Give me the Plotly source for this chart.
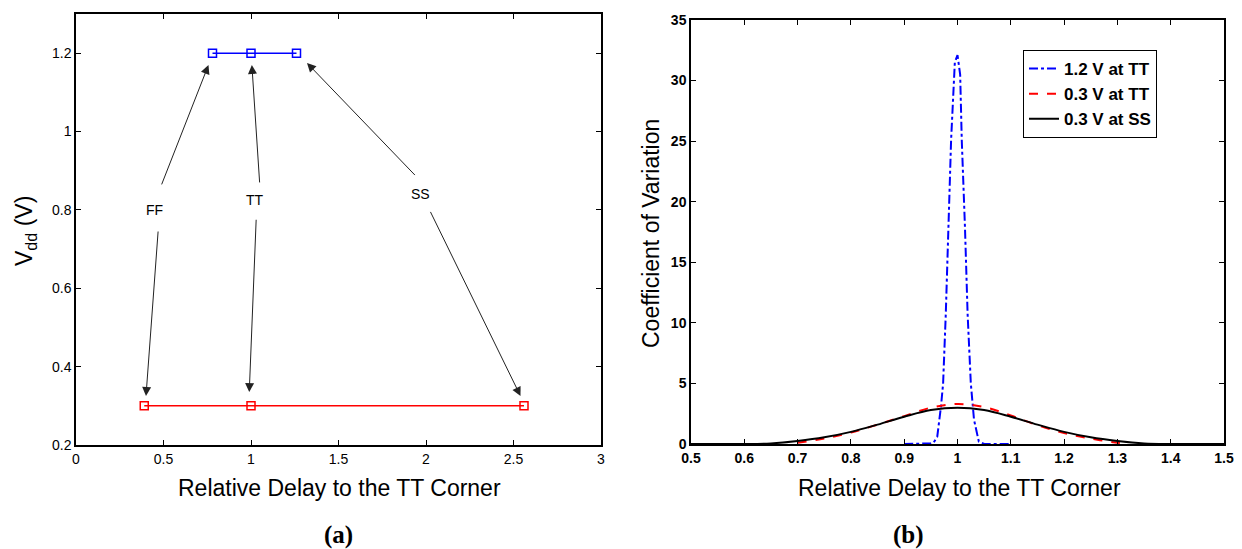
import plotly.graph_objects as go

# ---------------- Data: panel (a) ----------------
delay_12v = [0.78, 1.0, 1.26]
vdd_12v = [1.2, 1.2, 1.2]
delay_03v = [0.39, 1.0, 2.56]
vdd_03v = [0.3, 0.3, 0.3]

corner_labels = ["FF", "TT", "SS"]
label_x = [0.45, 1.02, 1.97]
label_y = [0.80, 0.825, 0.84]
# arrow tails (near labels) and heads (at markers)
up_tail_x = [0.485, 1.05, 1.945]
up_tail_y = [0.86, 0.865, 0.885]
up_head_x = [0.757, 1.005, 1.32]
up_head_y = [1.17, 1.17, 1.175]
down_tail_x = [0.47, 1.03, 2.02]
down_tail_y = [0.75, 0.78, 0.80]
down_head_x = [0.40, 0.99, 2.54]
down_head_y = [0.325, 0.335, 0.325]

# ---------------- Data: panel (b) ----------------
blue_x = [0.90, 0.93, 0.95, 0.955, 0.962, 0.969, 0.973, 0.978, 0.983, 0.988,
          0.995, 1.0, 1.005, 1.008, 1.014, 1.019, 1.025, 1.031, 1.04, 1.05,
          1.07, 1.10]
blue_y = [0.0, 0.0, 0.05, 0.1, 0.6, 3.1, 5.0, 10.7, 17.9, 25.1,
          31.5, 32.1, 30.5, 25.1, 17.9, 10.7, 5.0, 2.0, 0.2, 0.0,
          0.0, 0.0]

red_x = [0.70, 0.75, 0.80, 0.85, 0.90, 0.95, 1.00, 1.05, 1.10, 1.15,
         1.20, 1.25, 1.30, 1.32]
red_y = [0.1, 0.45, 0.95, 1.6, 2.3, 3.0, 3.3, 3.05, 2.35, 1.55,
         0.9, 0.45, 0.1, 0.0]

black_x = [0.50, 0.60, 0.65, 0.70, 0.75, 0.80, 0.85, 0.90, 0.95, 1.00,
           1.05, 1.10, 1.15, 1.20, 1.25, 1.30, 1.35, 1.40, 1.50]
black_y = [0.0, 0.0, 0.05, 0.25, 0.55, 1.0, 1.6, 2.25, 2.8, 3.0,
           2.8, 2.25, 1.6, 1.0, 0.55, 0.25, 0.05, 0.0, 0.0]

series_names = ["1.2 V at TT", "0.3 V at TT", "0.3 V at SS"]

FONT = "Liberation Sans, Arial, sans-serif"
SERIF = "Liberation Serif, Times New Roman, serif"

fig = go.Figure()

# panel (a)
fig.add_trace(go.Scatter(
    x=delay_12v, y=vdd_12v, mode="lines+markers", xaxis="x", yaxis="y",
    line=dict(color="#0000ff", width=1.5),
    marker=dict(symbol="square-open", size=8, color="#0000ff", line=dict(width=1.5)),
    showlegend=False))
fig.add_trace(go.Scatter(
    x=delay_03v, y=vdd_03v, mode="lines+markers", xaxis="x", yaxis="y",
    line=dict(color="#ff0000", width=1.5),
    marker=dict(symbol="square-open", size=8, color="#ff0000", line=dict(width=1.5)),
    showlegend=False))

# panel (b)
fig.add_trace(go.Scatter(
    x=blue_x, y=blue_y, mode="lines", xaxis="x2", yaxis="y2", name=series_names[0],
    line=dict(color="#0000ff", width=2, dash="dashdot")))
fig.add_trace(go.Scatter(
    x=red_x, y=red_y, mode="lines", xaxis="x2", yaxis="y2", name=series_names[1],
    line=dict(color="#ff0000", width=2, dash="dash"), line_shape="spline"))
fig.add_trace(go.Scatter(
    x=black_x, y=black_y, mode="lines", xaxis="x2", yaxis="y2", name=series_names[2],
    line=dict(color="#000000", width=2), line_shape="spline"))

annotations = []
for i, lab in enumerate(corner_labels):
    annotations.append(dict(x=label_x[i], y=label_y[i], xref="x", yref="y",
                            xanchor="center", yanchor="middle",
                            text=lab, showarrow=False,
                            font=dict(family=FONT, size=14, color="#000")))
    for tx, ty, hx, hy in [(up_tail_x[i], up_tail_y[i], up_head_x[i], up_head_y[i]),
                           (down_tail_x[i], down_tail_y[i], down_head_x[i], down_head_y[i])]:
        annotations.append(dict(x=hx, y=hy, xref="x", yref="y",
                                ax=tx, ay=ty, axref="x", ayref="y",
                                text=" ", showarrow=True, arrowhead=2,
                                arrowsize=1.8, arrowwidth=1.0, arrowcolor="#222",
                                font=dict(size=1)))


def paper_text(px, py, text, size, family=FONT, angle=0):
    return dict(x=px / 1242, y=1 - py / 549, xref="paper", yref="paper",
                xanchor="center", yanchor="middle", text=text, showarrow=False,
                textangle=angle, font=dict(family=family, size=size, color="#000"))


# axis titles and captions
annotations += [
    paper_text(339, 488, "Relative Delay to the TT Corner", 23),
    paper_text(959, 488, "Relative Delay to the TT Corner", 23),
    paper_text(25, 231, "V<sub>dd</sub> (V)", 23, angle=-90),
    paper_text(651, 234, "Coefficient of Variation", 23, angle=-90),
    paper_text(338, 535, "<b>(a)</b>", 25, family=SERIF),
    paper_text(908, 535, "<b>(b)</b>", 25, family=SERIF),
]

axis_common = dict(showline=True, linecolor="#000", linewidth=1.5, mirror="ticks",
                   ticks="inside", ticklen=5, tickwidth=1.2, tickcolor="#000",
                   showgrid=False, zeroline=False, automargin=False)

fig.update_layout(
    template="none",
    width=1242, height=549,
    margin=dict(l=0, r=0, t=0, b=0, pad=0),
    paper_bgcolor="white", plot_bgcolor="white",
    font=dict(family=FONT, color="#000"),
    xaxis=dict(domain=[76 / 1242, 601 / 1242], range=[0, 3],
               tickvals=[0, 0.5, 1, 1.5, 2, 2.5, 3],
               tickfont=dict(size=14, family=FONT), anchor="y", **axis_common),
    yaxis=dict(domain=[1 - 445 / 549, 1 - 14 / 549], range=[0.2, 1.3],
               tickvals=[0.2, 0.4, 0.6, 0.8, 1.0, 1.2],
               tickfont=dict(size=14, family=FONT), anchor="x", **axis_common),
    xaxis2=dict(domain=[691 / 1242, 1224 / 1242], range=[0.5, 1.5],
                tickvals=[0.5, 0.6, 0.7, 0.8, 0.9, 1.0, 1.1, 1.2, 1.3, 1.4, 1.5],
                tickfont=dict(size=14, family=FONT, weight="bold"), anchor="y2", **axis_common),
    yaxis2=dict(domain=[1 - 444 / 549, 1 - 20 / 549], range=[0, 35],
                tickvals=[0, 5, 10, 15, 20, 25, 30, 35],
                tickfont=dict(size=14, family=FONT, weight="bold"), anchor="x2", **axis_common),
    legend=dict(x=1023 / 1242, y=1 - 50 / 549, xanchor="left", yanchor="top",
                bgcolor="white", bordercolor="#000", borderwidth=1,
                font=dict(family=FONT, size=17, color="#000", weight="bold"),
                tracegroupgap=0, itemwidth=30),
    annotations=annotations,
)

fig.write_html("out.html")
